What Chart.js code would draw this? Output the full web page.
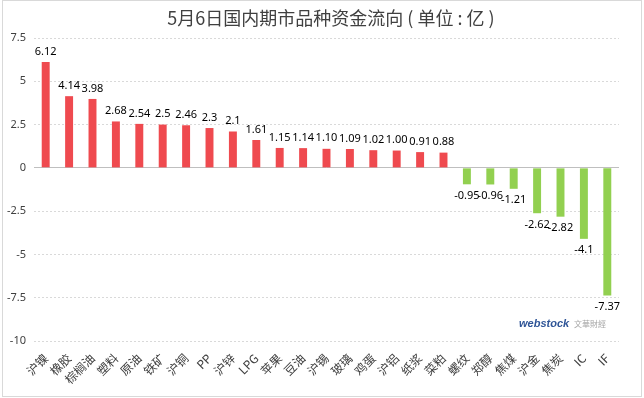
<!DOCTYPE html>
<html>
<head>
<meta charset="utf-8">
<script src="https://cdn.jsdelivr.net/npm/chart.js@4"></script>
<style>
  body { margin: 0; background: #fff; }
  #wrap { width: 644px; height: 398px; position: relative; }
</style>
</head>
<body>
<div id="wrap"><canvas id="flow-chart"></canvas></div>
<script>
const titleText = '5月6日国内期市品种资金流向 ( 单位 : 亿 )';
const categories = ['沪镍', '橡胶', '棕榈油', '塑料', '原油', '铁矿', '沪铜', 'PP', '沪锌', 'LPG', '苹果', '豆油', '沪锡', '玻璃', '鸡蛋', '沪铝', '纸浆', '菜粕', '螺纹', '郑醇', '焦煤', '沪金', '焦炭', 'IC', 'IF'];
const flows = [6.12, 4.14, 3.98, 2.68, 2.54, 2.5, 2.46, 2.3, 2.1, 1.61, 1.15, 1.14, 1.10, 1.09, 1.02, 1.00, 0.91, 0.88, -0.95, -0.96, -1.21, -2.62, -2.82, -4.1, -7.37];
const valueLabels = ['6.12', '4.14', '3.98', '2.68', '2.54', '2.5', '2.46', '2.3', '2.1', '1.61', '1.15', '1.14', '1.10', '1.09', '1.02', '1.00', '0.91', '0.88', '-0.95', '-0.96', '-1.21', '-2.62', '-2.82', '-4.1', '-7.37'];
const yTicks = [-10, -7.5, -5, -2.5, 0, 2.5, 5, 7.5];

const cjk = '"Microsoft YaHei", "Noto Sans CJK SC", sans-serif';

// title, data labels, watermark and frame
const extras = {
    id: 'extras',
    afterDatasetsDraw(chart) {
        const ctx = chart.ctx;
        const meta = chart.getDatasetMeta(0);
        ctx.save();
        ctx.font = '11px "Noto Sans", "DejaVu Sans", sans-serif';
        ctx.fillStyle = '#000';
        ctx.textAlign = 'center';
        meta.data.forEach((bar, i) => {
            if (flows[i] >= 0) {
                ctx.textBaseline = 'bottom';
                ctx.fillText(valueLabels[i], bar.x, bar.y - 5);
            } else {
                ctx.textBaseline = 'top';
                ctx.fillText(valueLabels[i], bar.x, bar.y + 6);
            }
        });
        ctx.restore();
    },
    afterDraw(chart) {
        const ctx = chart.ctx;
        ctx.save();
        ctx.font = '18px ' + cjk;
        ctx.fillStyle = '#404040';
        ctx.textAlign = 'center';
        ctx.textBaseline = 'middle';
        ctx.fillText(titleText, 331, 18);

        ctx.textAlign = 'left';
        ctx.textBaseline = 'alphabetic';
        ctx.font = 'bold italic 11px "Liberation Sans", sans-serif';
        ctx.fillStyle = '#2f5597';
        ctx.fillText('webstock', 519, 327);
        ctx.font = '8px ' + cjk;
        ctx.fillStyle = '#a6a6a6';
        ctx.fillText('文華財經', 574, 327);

        ctx.strokeStyle = '#d9d9d9';
        ctx.lineWidth = 1;
        ctx.strokeRect(2.5, 0.5, 639, 396);
        ctx.restore();
    }
};

const config = {
    type: 'bar',
    data: {
        labels: categories,
        datasets: [{
            data: flows,
            backgroundColor: flows.map(v => v >= 0 ? '#EF4A4F' : '#92D050'),
            categoryPercentage: 1,
            barPercentage: 0.34
        }]
    },
    options: {
        responsive: true,
        maintainAspectRatio: false,
        animation: false,
        layout: { padding: { top: 38, right: 25, bottom: 0, left: 0 } },
        plugins: {
            legend: { display: false },
            tooltip: { enabled: false }
        },
        scales: {
            x: {
                grid: { display: false },
                border: { display: false },
                afterFit(axis) { axis.height = 57; },
                ticks: {
                    autoSkip: false,
                    maxRotation: 45,
                    minRotation: 45,
                    padding: 2,
                    color: '#404040',
                    font: { size: 12, family: cjk }
                }
            },
            y: {
                min: -10,
                max: 7.5,
                afterFit(axis) { axis.width = 34; },
                afterBuildTicks(axis) { axis.ticks = yTicks.map(v => ({ value: v })); },
                grid: {
                    color: c => c.tick && c.tick.value === 0 ? '#bfbfbf' : '#d9d9d9',
                    drawTicks: false
                },
                border: {
                    display: false,
                    dash: c => c.tick && c.tick.value === 0 ? [] : [2, 2]
                },
                ticks: {
                    padding: 8,
                    color: '#404040',
                    font: { size: 11, family: '"Noto Sans", sans-serif' },
                    callback: v => String(v)
                }
            }
        }
    },
    plugins: [extras]
};

const ctx = document.getElementById('flow-chart').getContext('2d');
const flowChart = new Chart(ctx, config);
</script>
</body>
</html>
